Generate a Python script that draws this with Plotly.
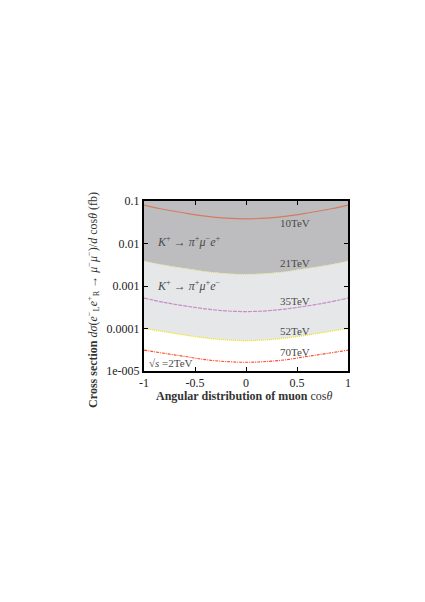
import plotly.graph_objects as go

# cos(theta) sample points
cos_theta = [-1.0, -0.8, -0.6, -0.4, -0.2, 0.0, 0.2, 0.4, 0.6, 0.8, 1.0]

# cross sections (fb) for each energy
xs_10tev = [0.080, 0.063, 0.052, 0.044, 0.0395, 0.038, 0.0395, 0.044, 0.052, 0.063, 0.080]
xs_21tev = [0.0039, 0.0031, 0.0026, 0.0022, 0.00198, 0.0019, 0.00198, 0.0022, 0.0026, 0.0031, 0.0039]
xs_35tev = [5.2e-4, 4.1e-4, 3.4e-4, 2.9e-4, 2.6e-4, 2.5e-4, 2.6e-4, 2.9e-4, 3.4e-4, 4.1e-4, 5.2e-4]
xs_52tev = [1.0e-4, 8.4e-5, 7.0e-5, 6.0e-5, 5.4e-5, 5.2e-5, 5.4e-5, 6.0e-5, 7.0e-5, 8.4e-5, 1.0e-4]
xs_70tev = [3.1e-5, 2.6e-5, 2.2e-5, 1.85e-5, 1.67e-5, 1.6e-5, 1.67e-5, 1.85e-5, 2.2e-5, 2.6e-5, 3.1e-5]
top_bound = [0.1] * len(cos_theta)

y_tickvals = [1e-5, 1e-4, 1e-3, 1e-2, 1e-1]
y_ticktext = ["1e-005", "0.0001", "0.001", "0.01", "0.1"]
x_tickvals = [-1, -0.5, 0, 0.5, 1]
x_ticktext = ["-1", "-0.5", "0", "0.5", "1"]

SERIF = "Liberation Serif, DejaVu Serif, serif"

fig = go.Figure()

# dark band: K+ -> pi+ mu- e+
fig.add_trace(go.Scatter(x=cos_theta, y=top_bound, mode="lines",
                         line=dict(width=0), showlegend=False, hoverinfo="skip"))
fig.add_trace(go.Scatter(x=cos_theta, y=xs_21tev, mode="lines", fill="tonexty",
                         fillcolor="#bdbdbf", line=dict(color="#d8d27a", width=1, dash="1px,1px"),
                         line_shape="spline", showlegend=False))
# light band: K+ -> pi+ mu+ e-
fig.add_trace(go.Scatter(x=cos_theta, y=xs_52tev, mode="lines", fill="tonexty",
                         fillcolor="#e6e7e9", line=dict(color="#eee000", width=1.2, dash="1px,1px"),
                         line_shape="spline", showlegend=False))

fig.add_trace(go.Scatter(x=cos_theta, y=xs_10tev, mode="lines", line_shape="spline",
                         line=dict(color="#d77a62", width=1.1), showlegend=False))
fig.add_trace(go.Scatter(x=cos_theta, y=xs_35tev, mode="lines", line_shape="spline",
                         line=dict(color="#c88cc8", width=1.2, dash="4px,1px"), showlegend=False))
fig.add_trace(go.Scatter(x=cos_theta, y=xs_70tev, mode="lines", line_shape="spline",
                         line=dict(color="#ff4a26", width=1.1, dash="3px,1px,1px,1px"), showlegend=False))

labels = [("10TeV", -1.52), ("21TeV", -2.46), ("35TeV", -3.35), ("52TeV", -4.06), ("70TeV", -4.55)]
for txt, ly in labels:
    fig.add_annotation(x=0.48, y=ly, text=txt, showarrow=False,
                       font=dict(family=SERIF, size=11, color="#4a4a4a"))

fig.add_annotation(x=-0.89, y=-1.96, xanchor="left", showarrow=False,
                   text="<i>K</i><sup>+</sup> → <i>π</i><sup>+</sup><i>μ</i><sup>−</sup><i>e</i><sup>+</sup>",
                   font=dict(family=SERIF, size=12, color="#4a4a4a"))
fig.add_annotation(x=-0.89, y=-2.98, xanchor="left", showarrow=False,
                   text="<i>K</i><sup>+</sup> → <i>π</i><sup>+</sup><i>μ</i><sup>+</sup><i>e</i><sup>−</sup>",
                   font=dict(family=SERIF, size=12, color="#4a4a4a"))
fig.add_annotation(x=-0.97, y=-4.8, xanchor="left", showarrow=False,
                   text="√<i>s</i> =2TeV",
                   font=dict(family=SERIF, size=11, color="#4a4a4a"))

# axis titles
fig.add_annotation(xref="paper", yref="paper", x=0.49, y=-0.2, showarrow=False,
                   text="<b>Angular distribution of muon</b> cos<i>θ</i>",
                   font=dict(family=SERIF, size=12, color="#333333"))
fig.add_annotation(xref="paper", yref="paper", x=-0.3, y=0.42, showarrow=False, textangle=-90,
                   text="<b>Cross section</b> <i>dσ</i>(<i>e</i><sup>−</sup><sub>L</sub><i>e</i><sup>+</sup><sub>R</sub>"
                        " → <i>μ</i><sup>−</sup><i>μ</i><sup>−</sup>)/<i>d</i> cos<i>θ</i> (fb)",
                   font=dict(family=SERIF, size=12, color="#333333"))

axis_common = dict(showline=True, linecolor="black", linewidth=2, mirror="ticks",
                   ticks="inside", ticklen=4, tickcolor="black", showgrid=False, zeroline=False,
                   tickfont=dict(family=SERIF, size=12, color="#222222"))

fig.update_xaxes(range=[-1, 1], tickvals=x_tickvals, ticktext=x_ticktext, **axis_common)
fig.update_yaxes(type="log", range=[-5, -1], tickvals=y_tickvals, ticktext=y_ticktext, **axis_common)

fig.update_layout(
    width=425, height=602,
    margin=dict(l=136, r=85, t=193, b=239),
    plot_bgcolor="white", paper_bgcolor="white",
    showlegend=False,
)

fig.write_html("out.html")
